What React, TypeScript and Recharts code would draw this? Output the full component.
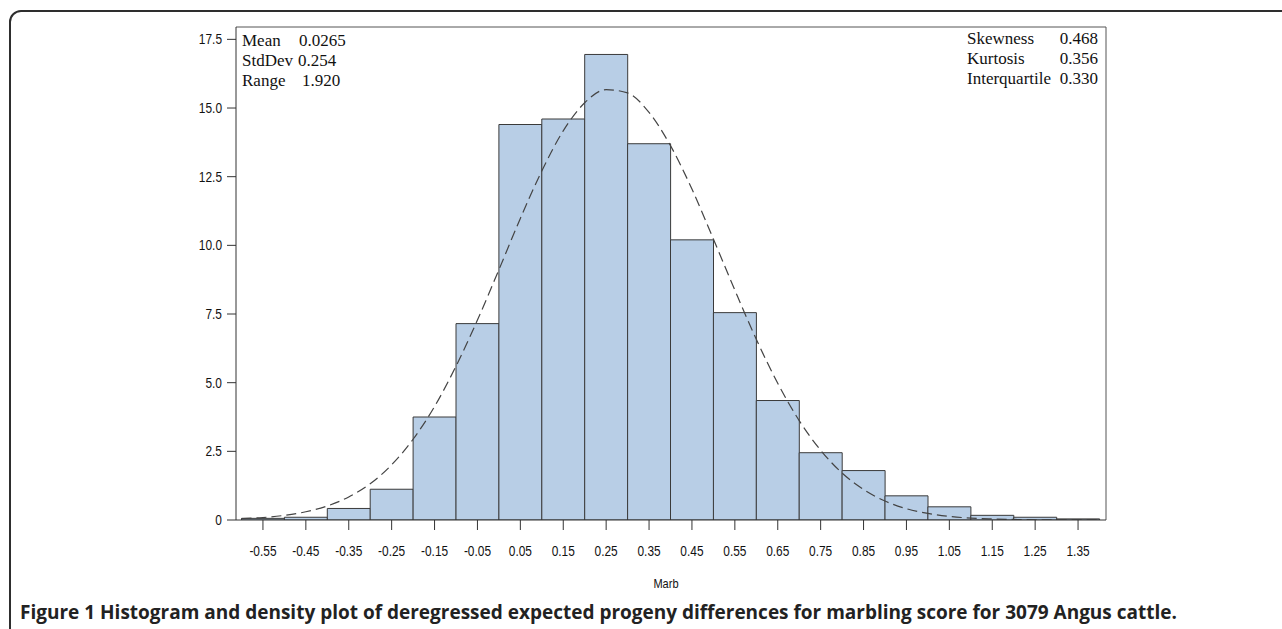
import React from 'react';
import { ComposedChart, Bar, Line, XAxis, YAxis, ReferenceLine } from 'recharts';

// Histogram bins (midpoints) and percent of animals in each bin
const binLabels = ['-0.55', '-0.45', '-0.35', '-0.25', '-0.15', '-0.05', '0.05', '0.15', '0.25', '0.35', '0.45', '0.55', '0.65', '0.75', '0.85', '0.95', '1.05', '1.15', '1.25', '1.35'];
const binPercent = [0.06, 0.1, 0.42, 1.12, 3.75, 7.15, 14.4, 14.6, 16.95, 13.7, 10.2, 7.55, 4.35, 2.45, 1.8, 0.88, 0.48, 0.17, 0.1, 0.04];

// Dashed density curve
const curveX = [-0.6, -0.55, -0.5, -0.45, -0.4, -0.35, -0.3, -0.25, -0.2, -0.15, -0.1, -0.05, 0.0, 0.05, 0.1, 0.15, 0.2, 0.25, 0.3, 0.35, 0.4, 0.45, 0.5, 0.55, 0.6, 0.65, 0.7, 0.75, 0.8, 0.85, 0.9, 0.95, 1.0, 1.05, 1.1, 1.15, 1.2, 1.25, 1.3, 1.35, 1.4];
const curveDensity = [0.05, 0.09, 0.17, 0.3, 0.51, 0.84, 1.32, 2.01, 2.94, 4.13, 5.6, 7.28, 9.11, 10.98, 12.71, 14.17, 15.19, 15.67, 15.55, 14.84, 13.63, 12.05, 10.23, 8.37, 6.58, 4.98, 3.62, 2.54, 1.71, 1.11, 0.69, 0.41, 0.24, 0.13, 0.07, 0.04, 0.02, 0.01, 0.005, 0.002, 0.001];

const yTicks = [0, 2.5, 5, 7.5, 10, 12.5, 15, 17.5];

const statsLeft = [
  { name: 'Mean', value: '0.0265', vx: 299 },
  { name: 'StdDev', value: '0.254', vx: 298 },
  { name: 'Range', value: '1.920', vx: 302 },
];
const statsRight = [
  { name: 'Skewness', value: '0.468' },
  { name: 'Kurtosis', value: '0.356' },
  { name: 'Interquartile', value: '0.330' },
];

const xTitle = 'Marb';
const captionBold = 'Figure 1';
const captionText = 'Histogram and density plot of deregressed expected progeny differences for marbling score for 3079 Angus cattle.';

const bins = binLabels.map((label, i) => ({ label, pct: binPercent[i] }));
const curve = curveX.map((x, i) => ({ x, d: curveDensity[i] }));

const AXIS_FONT = '"Liberation Sans", Arial, sans-serif';
const SERIF = '"Liberation Serif", "Times New Roman", serif';
const NARROW = 0.85;

const X_MIN = -0.6128;
const X_MAX = 1.4152;
const Y_MAX = 17.95;

const XTick = (props: any) => {
  const { x, y, payload } = props;
  return (
    <g transform={`translate(${x},${y})`}>
      <text
        x={0}
        y={0}
        dy="0.71em"
        textAnchor="middle"
        transform={`scale(${NARROW},1)`}
        fontFamily={AXIS_FONT}
        fontSize={14}
        fill="#111"
      >
        {payload.value}
      </text>
    </g>
  );
};

const YTick = (props: any) => {
  const { x, y, payload } = props;
  const v = payload.value as number;
  return (
    <g transform={`translate(${x},${y})`}>
      <text
        x={0}
        y={0}
        dy="0.355em"
        textAnchor="end"
        transform={`scale(${NARROW},1)`}
        fontFamily={AXIS_FONT}
        fontSize={14}
        fill="#111"
      >
        {v === 0 ? '0' : v.toFixed(1)}
      </text>
    </g>
  );
};

export default function App() {
  const statStyle: React.CSSProperties = {
    position: 'absolute',
    fontFamily: SERIF,
    fontSize: 17,
    lineHeight: '20px',
    color: '#111',
    whiteSpace: 'nowrap',
  };
  return (
    <div style={{ position: 'absolute', left: 0, top: 0, width: 1282, height: 629, background: '#fff', overflow: 'hidden' }}>
      <div
        style={{
          position: 'absolute',
          left: 9,
          top: 10,
          width: 1320,
          height: 680,
          border: '2px solid #2e2e2e',
          borderRadius: 12,
          boxSizing: 'border-box',
        }}
      />
      <div style={{ position: 'absolute', left: 0, top: 0 }}>
        <ComposedChart
          width={1282}
          height={629}
          data={bins}
          barCategoryGap={0}
          barGap={0}
          margin={{ top: 27, right: 176, bottom: 69, left: 176 }}
        >
          <XAxis
            xAxisId="cat"
            dataKey="label"
            type="category"
            height={40}
            padding={{ left: 5.5, right: 6.5 }}
            interval={0}
            tickSize={10}
            tickMargin={16}
            stroke="#333"
            tick={<XTick />}
          />
          <XAxis xAxisId="num" dataKey="x" type="number" domain={[X_MIN, X_MAX]} allowDataOverflow hide />
          <YAxis
            type="number"
            domain={[0, Y_MAX]}
            ticks={yTicks}
            allowDataOverflow
            width={60}
            tickSize={9}
            tickMargin={5}
            stroke="#333"
            tick={<YTick />}
          />
          <ReferenceLine y={Y_MAX} xAxisId="num" stroke="#555" ifOverflow="visible" />
          <ReferenceLine x={X_MAX} xAxisId="num" stroke="#555" ifOverflow="visible" />
          <Bar xAxisId="cat" dataKey="pct" fill="#B8CEE6" stroke="#3a3a3a" strokeWidth={1} isAnimationActive={false} />
          <Line
            xAxisId="num"
            data={curve}
            dataKey="d"
            type="monotone"
            dot={false}
            activeDot={false}
            stroke="#444"
            strokeWidth={1.2}
            strokeDasharray="10 5"
            isAnimationActive={false}
          />
        </ComposedChart>
      </div>
      {statsLeft.map((s, i) => (
        <React.Fragment key={s.name}>
          <div style={{ ...statStyle, left: 242, top: 31 + i * 20 }}>{s.name}</div>
          <div style={{ ...statStyle, left: s.vx, top: 31 + i * 20 }}>{s.value}</div>
        </React.Fragment>
      ))}
      {statsRight.map((s, i) => (
        <React.Fragment key={s.name}>
          <div style={{ ...statStyle, left: 967, top: 29 + i * 20 }}>{s.name}</div>
          <div style={{ ...statStyle, right: 1282 - 1098, top: 29 + i * 20 }}>{s.value}</div>
        </React.Fragment>
      ))}
      <div
        style={{
          position: 'absolute',
          left: 646,
          top: 576,
          width: 40,
          textAlign: 'center',
          fontFamily: AXIS_FONT,
          fontSize: 13,
          color: '#111',
          transform: `scaleX(${NARROW})`,
        }}
      >
        {xTitle}
      </div>
      <div
        style={{
          position: 'absolute',
          left: 20,
          top: 599,
          fontFamily: '"Open Sans", "Noto Sans", sans-serif',
          fontSize: 19,
          fontWeight: 700,
          color: '#222',
          whiteSpace: 'nowrap',
        }}
      >
        <span>{captionBold}</span> <span>{captionText}</span>
      </div>
    </div>
  );
}
